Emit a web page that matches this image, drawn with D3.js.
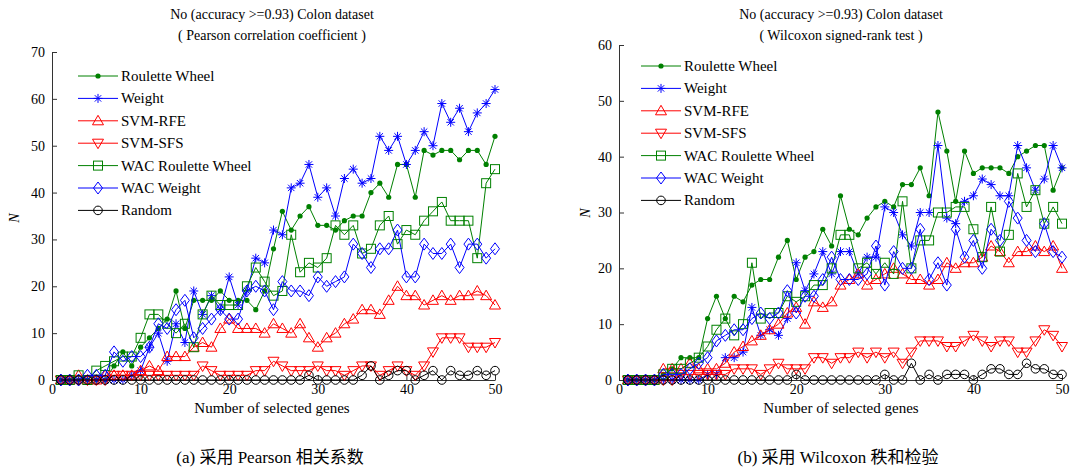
<!DOCTYPE html>
<html><head><meta charset="utf-8">
<script src="https://cdn.jsdelivr.net/npm/d3@7"></script>
<style>
body{margin:0;background:#fff;}
svg{display:block;font-family:"Liberation Serif","Times New Roman",serif;}
</style></head><body>
<svg id="c" width="1079" height="472"></svg>
<script>
// ---------- data ----------
const genes = d3.range(1, 51);
const seriesNames = ["Roulette Wheel","Weight","SVM-RFE","SVM-SFS","WAC Roulette Wheel","WAC Weight","Random"];
const xTicks = [0,10,20,30,40,50];
const yTicksA = [0,10,20,30,40,50,60,70];
const yTicksB = [0,10,20,30,40,50,60];

// (a) Pearson
const pRW   = [0,0,0,0,0,0,3,6,3,7, 9,11,13,19,11,17,17,17,19,17, 17,17,15,19,28,36,32,35,37,33, 33,32,34,35,35,40,42,39,46,46, 39,49,48,49,49,47,49,49,46,52];
const pW    = [0,0,0,0,0,0,0,0,1,2, 7,10,4,12,8,19,14,18,15,22, 16,19,26,25,32,31,41,42,46,39, 41,35,43,45,42,43,52,49,52,46, 49,53,50,59,55,58,53,57,59,62];
const pRFE  = [0,0,1,0,0,1,1,1,1,2, 3,2,5,5,5,7,8,7,11,13, 11,11,11,10,12,11,10,12,9,7, 9,10,12,13,15,15,14,17,20,18, 18,16,17,18,17,18,18,19,18,16];
const pSFS  = [0,0,0,0,0,0,1,1,1,1, 1,1,1,1,1,1,3,2,1,1, 1,1,2,2,4,3,2,2,2,3, 2,2,1,2,3,3,1,2,3,2, 1,3,6,9,9,9,7,7,7,8];
const pWRW  = [0,0,1,0,2,3,4,5,5,9, 14,14,12,10,12,7,14,18,16,16, 16,20,24,21,18,19,31,23,25,24, 26,33,31,33,27,28,33,35,29,32, 31,34,36,38,34,34,34,26,42,45];
const pWW   = [0,0,0,1,1,1,6,4,5,5, 7,12,11,15,17,9,11,13,15,13, 13,19,20,19,15,21,19,19,18,22, 20,21,22,29,27,24,28,28,32,22, 22,29,27,27,29,24,29,29,26,28];
const pRand = [0,0,0,0,0,0,0,0,0,0, 0,0,0,0,0,0,0,0,0,0, 0,0,0,0,0,0,0,0,1,0, 0,0,0,0,1,3,0,1,2,2, 0,1,2,0,2,1,1,2,1,2];

// (b) Wilcoxon
const wRW   = [0,0,0,0,1,2,4,4,4,11, 15,11,15,14,17,18,18,22,25,18, 22,23,27,24,33,27,26,29,31,32, 31,35,35,38,33,48,41,32,41,37, 38,38,38,37,40,41,42,42,34,38];
const wW    = [0,0,0,0,0,0,0,0,0,1, 1,4,4,5,13,8,9,8,11,21, 16,19,23,19,23,23,19,22,22,31, 30,26,24,30,30,42,29,28,32,33, 36,35,33,33,42,38,34,36,42,38];
const wRFE  = [0,0,0,0,2,2,2,3,2,2, 2,3,5,6,7,8,9,10,12,13, 10,14,13,14,17,18,19,17,18,19, 20,19,18,18,17,18,21,20,21,21, 22,24,23,21,23,23,24,23,24,20];
const wSFS  = [0,0,0,0,0,0,1,1,1,1, 1,1,2,2,2,1,2,3,2,2, 2,4,4,3,4,4,5,4,5,4, 5,3,5,7,7,7,6,6,7,8, 7,6,7,7,5,5,7,9,8,6];
const wWRW  = [0,0,0,0,1,2,2,3,4,6, 9,11,8,10,21,11,12,12,15,14, 15,17,17,20,26,26,20,21,19,21, 19,32,20,25,25,30,30,31,31,27, 22,31,23,26,37,31,34,28,31,28];
const wWW   = [0,0,0,0,1,1,1,2,3,4, 7,8,9,9,11,12,11,12,16,12, 15,15,18,22,18,18,18,19,24,17, 23,20,20,27,18,21,17,27,22,25, 20,27,25,32,29,25,23,28,23,22];
const wRand = [0,0,0,0,0,0,0,0,0,0, 0,0,0,0,0,0,0,0,0,1, 0,0,0,0,0,0,0,0,0,1, 0,0,3,0,1,0,1,1,1,0, 1,2,2,1,1,3,2,2,1,1];

// ---------- styles ----------
const GREEN="#008000", BLUE="#0000ff", RED="#ff0000", BLACK="#000000";
const styles = [
  {color:GREEN, marker:"dot"},
  {color:BLUE,  marker:"star"},
  {color:RED,   marker:"tri"},
  {color:RED,   marker:"tridown"},
  {color:GREEN, marker:"square"},
  {color:BLUE,  marker:"diamond"},
  {color:BLACK, marker:"circle"}
];
function drawMarker(g, type, color){
  switch(type){
    case "dot": g.append("circle").attr("r",2.6).attr("fill",color); break;
    case "star": g.append("path").attr("d","M-4.5,0H4.5M0,-4.5V4.5M-3.2,-3.2L3.2,3.2M-3.2,3.2L3.2,-3.2").attr("stroke",color).attr("fill","none").attr("stroke-width",1); break;
    case "tri": g.append("path").attr("d","M0,-5.5L5.5,4L-5.5,4Z").attr("stroke",color).attr("fill","none"); break;
    case "tridown": g.append("path").attr("d","M0,5.5L5.5,-4L-5.5,-4Z").attr("stroke",color).attr("fill","none"); break;
    case "square": g.append("rect").attr("x",-4.5).attr("y",-4.5).attr("width",9).attr("height",9).attr("stroke",color).attr("fill","none"); break;
    case "diamond": g.append("path").attr("d","M0,-6L4.5,0L0,6L-4.5,0Z").attr("stroke",color).attr("fill","none"); break;
    case "circle": g.append("circle").attr("r",4.3).attr("stroke",color).attr("fill","none"); break;
  }
}

const svg = d3.select("#c");
const FONT = '"Liberation Serif","Times New Roman",serif';

function chart(cfg){
  const x = d3.scaleLinear().domain([0,50]).range([cfg.x0, cfg.x1]);
  const y = d3.scaleLinear().domain([0,cfg.ymax]).range([380, cfg.ytop]);
  const g = svg.append("g");

  // axes (ticks inward)
  const ax = g.append("g").attr("transform","translate(0,380)")
    .call(d3.axisBottom(x).tickValues(xTicks).tickSizeInner(-5).tickSizeOuter(0).tickPadding(4));
  const ay = g.append("g").attr("transform",`translate(${cfg.x0},0)`)
    .call(d3.axisLeft(y).tickValues(cfg.yTicks).tickSizeInner(-5).tickSizeOuter(0).tickPadding(7));
  [ax,ay].forEach(a=>{
    a.attr("font-family",FONT);
    a.selectAll("text").attr("font-family",FONT).attr("font-size",14).attr("fill","#000");
    a.selectAll("line,path").attr("stroke","#333");
  });

  const line = d3.line().x((d,i)=>x(genes[i])).y(d=>y(d));
  cfg.data.forEach((arr,k)=>{
    const st = styles[k];
    g.append("path").datum(arr).attr("d",line).attr("fill","none").attr("stroke",st.color).attr("stroke-width",1);
    arr.forEach((v,i)=>{
      const m = g.append("g").attr("transform",`translate(${x(genes[i])},${y(v)})`);
      drawMarker(m, st.marker, st.color);
    });
  });

  // legend
  seriesNames.forEach((name,k)=>{
    const ly = cfg.legY + k*22.4;
    const st = styles[k];
    g.append("line").attr("x1",cfg.legX).attr("x2",cfg.legX+40).attr("y1",ly).attr("y2",ly)
      .attr("stroke",st.color).attr("stroke-width",1);
    const m = g.append("g").attr("transform",`translate(${cfg.legX+20},${ly})`);
    drawMarker(m, st.marker, st.color);
    g.append("text").attr("x",cfg.legX+43).attr("y",ly+5).attr("font-size",15).attr("font-family",FONT)
      .text(name);
  });

  const cx = cfg.cx;
  g.append("text").attr("x",cx).attr("y",19).attr("text-anchor","middle").attr("font-size",14).attr("font-family",FONT)
    .text("No (accuracy >=0.93) Colon dataset");
  g.append("text").attr("x",cx).attr("y",40).attr("text-anchor","middle").attr("font-size",14).attr("font-family",FONT)
    .text(cfg.sub);
  g.append("text").attr("x",cx).attr("y",413).attr("text-anchor","middle").attr("font-size",15).attr("font-family",FONT)
    .text("Number of selected genes");
  g.append("text").attr("transform",`translate(${cfg.nX},${cfg.nY}) rotate(-90)`).attr("text-anchor","middle")
    .attr("font-size",14).attr("font-style","italic").attr("font-family",FONT).text("N");
  g.append("text").attr("x",cfg.capX).attr("y",463).attr("text-anchor","middle").attr("font-size",17)
    .attr("font-family",'"Liberation Serif","Times New Roman","Noto Sans CJK SC",serif').text(cfg.caption);
}

chart({x0:52,x1:495,ymax:70,ytop:52,yTicks:yTicksA,data:[pRW,pW,pRFE,pSFS,pWRW,pWW,pRand],
  legX:78,legY:76,cx:272,sub:"( Pearson correlation coefficient )",nX:19,nY:218,capX:270,
  caption:"(a)  采用 Pearson 相关系数"});
chart({x0:619,x1:1062,ymax:60,ytop:45,yTicks:yTicksB,data:[wRW,wW,wRFE,wSFS,wWRW,wWW,wRand],
  legX:641,legY:66,cx:841,sub:"( Wilcoxon signed-rank test )",nX:590,nY:213,capX:838,
  caption:"(b)  采用 Wilcoxon 秩和检验"});
</script>
</body></html>
